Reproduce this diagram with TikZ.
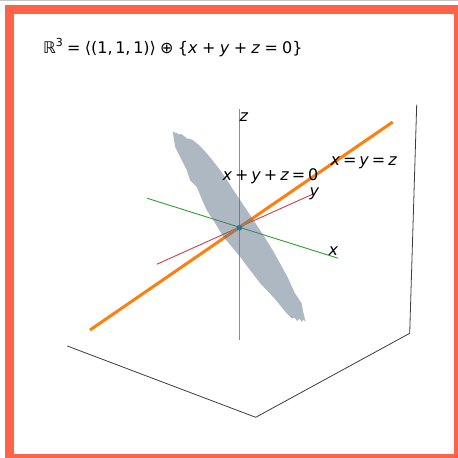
\documentclass[tikz,border=0pt]{standalone}
\usepackage{fontspec}
\setmainfont{DejaVu Sans}
\definecolor{bordercol}{RGB}{255,99,71}
\definecolor{panecol}{RGB}{60,60,60}
\definecolor{zcol}{RGB}{150,125,205}
\definecolor{xcol}{RGB}{44,160,44}
\definecolor{ycol}{RGB}{214,60,75}
\definecolor{linecol}{RGB}{255,127,14}
\definecolor{planecol}{RGB}{93,115,135}
\definecolor{dotcol}{RGB}{31,119,180}
\newcommand{\vv}[1]{\textit{#1}}
\newcommand{\opr}[1]{\hspace{0.18em}#1\hspace{0.18em}}
\newcommand{\oprt}[1]{\hspace{0.27em}#1\hspace{0.27em}}
\tikzset{
  pane/.style={draw=panecol, line width=0.8pt},
  lbl/.style={inner sep=0pt, anchor=base west, font=\fontsize{16}{19}\selectfont},
}
\begin{document}
\begin{tikzpicture}[x=1pt,y=-1pt]
\useasboundingbox (0,0) rectangle (458,458);
\fill[white] (0,0) rectangle (458,458);
\fill[bordercol] (4.5,4.5) rectangle (458,458);
\fill[white] (13.5,13.5) rectangle (453.5,453.5);
\draw[gray!45, line width=1pt] (0,0.5) -- (458,0.5);
% panes
\draw[pane] (67.3,346) -- (255.7,417.3) -- (409.7,333.3) -- (416.7,104.7);
% axes
\draw[zcol, line width=1.1pt] (239.4,109) -- (239.4,340);
\draw[xcol, line width=0.9pt] (147.3,198.3) -- (338.3,258.3);
\draw[ycol, line width=0.9pt] (156.7,264.3) -- (313,194);
\draw[linecol, line width=3pt] (90,330) -- (392.7,122);
% plane
\fill[planecol, fill opacity=0.5]
 (172.5,131.5) -- (176,133) -- (177,132.5) -- (178,134.5) -- (181,134) -- (183.3,135.5) -- (187,138.5) -- (190,138.8)
 -- (193.3,140.5) -- (200,146) -- (206.7,153.3) -- (213,161) -- (220,170) -- (227,180) -- (233.3,190)
 -- (240,200) -- (248,212) -- (256,224) -- (263.3,235) -- (272,249) -- (280,263.3) -- (288,278)
 -- (295,293.3) -- (301.7,303.3) -- (303,311) -- (305.5,321.5) -- (303,319.5) -- (302,322) -- (299.5,318.5)
 -- (297,321) -- (295,318) -- (291.7,318.5) -- (286.7,313.3) -- (275,299) -- (260,283) -- (250,270)
 -- (240,256.7) -- (232,247) -- (223.3,236.7) -- (215,223) -- (206.7,210) -- (203,202) -- (196.7,186.7)
 -- (190,180) -- (186.7,170) -- (180,156.7) -- (175,146.7) -- (173.3,135) -- cycle;
\fill[dotcol] (239.4,227.7) circle (2.8);
% labels
\node[lbl] (zl) at (239.5,121.7) {\vv{z}};
\node[lbl] (yl) at (309.5,196) {\vv{y}};
\node[lbl] (xl) at (328.5,255) {\vv{x}};
\node[lbl] (pl) at (222.5,180) {\vv{x}\opr{+}\vv{y}\opr{+}\vv{z}\opr{=}0};
\node[lbl] (ll) at (330.5,165) {\vv{x}\opr{=}\vv{y}\opr{=}\vv{z}};
\node[lbl] (title) at (43,53.3) {ℝ\raisebox{0.45em}{\fontsize{11}{12}\selectfont 3}\oprt{=}⟨(1,\,1,\,1)⟩\oprt{⊕}\{\vv{x}\oprt{+}\vv{y}\oprt{+}\vv{z}\oprt{=}0\}};
\end{tikzpicture}
\end{document}
